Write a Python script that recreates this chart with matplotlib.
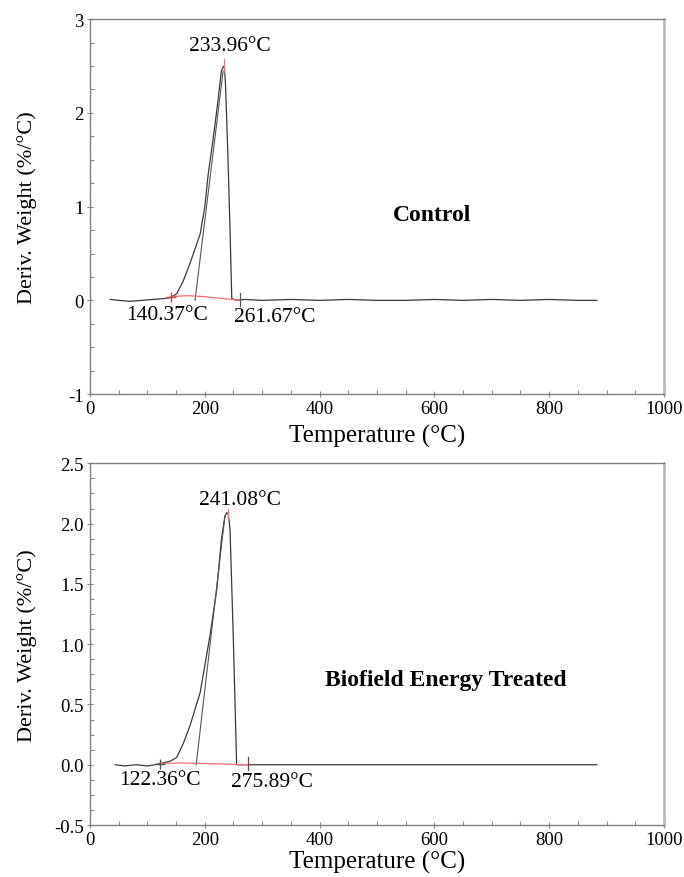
import matplotlib.pyplot as plt
from matplotlib.ticker import MultipleLocator, FormatStrFormatter

plt.rcParams['font.family'] = ['Liberation Serif', 'DejaVu Serif']

# control curve
ctrl_t = [35, 50, 70, 90, 110, 130, 140, 151, 162, 174, 183, 192, 200, 206, 214,
          221, 229, 232, 234, 236, 240, 244, 247, 255, 270, 300, 350, 400, 450,
          500, 550, 600, 650, 700, 750, 800, 850, 883]
ctrl_y = [0.01, 0.0, -0.01, 0.0, 0.01, 0.02, 0.03, 0.07, 0.2, 0.39, 0.55, 0.71,
          1.0, 1.35, 1.7, 2.03, 2.45, 2.49, 2.5, 2.32, 1.6, 0.75, 0.02, 0.0,
          0.01, 0.0, 0.01, 0.0, 0.01, 0.0, 0.0, 0.01, 0.0, 0.01, 0.0, 0.01, 0.0, 0.0]
ctrl_tan_t = [183, 232]
ctrl_tan_y = [0.0, 2.45]
ctrl_base_t = [140, 170, 200, 230, 262]
ctrl_base_y = [0.04, 0.05, 0.04, 0.02, 0.0]

# treated curve
trt_t = [44, 60, 80, 100, 113, 122, 140, 151, 162, 174, 192, 209, 221, 229, 235,
         238, 241, 244, 250, 255.5, 265, 300, 350, 400, 450, 500, 550, 600, 650,
         700, 750, 800, 850, 883]
trt_y = [0.0, -0.01, 0.0, -0.01, 0.0, 0.01, 0.03, 0.06, 0.17, 0.32, 0.6, 1.07,
         1.46, 1.87, 2.06, 2.09, 2.08, 1.95, 1.0, 0.0, 0.0, 0.0, 0.0, 0.0, 0.0,
         0.0, 0.0, 0.0, 0.0, 0.0, 0.0, 0.0, 0.0, 0.0]
trt_tan_t = [185, 235]
trt_tan_y = [0.0, 2.06]
trt_base_t = [122, 160, 200, 240, 276]
trt_base_y = [0.01, 0.015, 0.01, 0.005, 0.0]

fig = plt.figure(figsize=(6.84, 8.78), dpi=100)
ax1 = fig.add_axes([0.1316, 0.550, 0.839, 0.427])
ax2 = fig.add_axes([0.1316, 0.0592, 0.839, 0.412])


def style(ax, ymin, ymax, ymaj, ymin_step, fmt, xlab_y):
    ax.set_xlim(0, 1000)
    ax.set_ylim(ymin, ymax)
    ax.xaxis.set_major_locator(MultipleLocator(200))
    ax.xaxis.set_minor_locator(MultipleLocator(50))
    ax.yaxis.set_major_locator(MultipleLocator(ymaj))
    ax.yaxis.set_minor_locator(MultipleLocator(ymin_step))
    ax.yaxis.set_major_formatter(FormatStrFormatter(fmt))
    ax.tick_params(which='major', direction='inout', length=5, width=0.8,
                   color='#888888', labelsize=13.5, pad=2)
    ax.tick_params(which='minor', direction='in', length=3, width=0.8,
                   color='#888888')
    for s in ['left', 'top', 'bottom']:
        ax.spines[s].set_color('#808080')
        ax.spines[s].set_linewidth(1.0)
    ax.spines['right'].set_color('#bbbbbb')
    ax.spines['right'].set_linewidth(2.0)
    ax.set_xlabel('Temperature (°C)', fontsize=18)
    ax.set_ylabel('Deriv. Weight (%/°C)', fontsize=16)
    ax.yaxis.set_label_coords(-0.092, 0.5)
    ax.xaxis.set_label_coords(0.5, xlab_y)


style(ax1, -1, 3, 1, 0.25, '%d', -0.08)
style(ax2, -0.5, 2.5, 0.5, 0.125, '%.1f', -0.069)

# top panel
ax1.plot(ctrl_t, ctrl_y, color='#3a3a3a', lw=0.9)
ax1.plot(ctrl_tan_t, ctrl_tan_y, color='#555555', lw=0.8)
ax1.plot(ctrl_base_t, ctrl_base_y, color='#f07070', lw=0.9)
ax1.plot([140.37], [0.04], marker='+', color='#b05050', ms=7)
ax1.plot([261.67, 261.67], [-0.06, 0.08], color='#555555', lw=0.9)
ax1.plot([233.96, 233.96], [2.44, 2.58], color='#f07070', lw=0.9)
ax1.text(244, 2.72, '233.96°C', fontsize=15.5, ha='center', va='center')
ax1.text(134, -0.15, '140.37°C', fontsize=15.5, ha='center', va='center')
ax1.text(322, -0.17, '261.67°C', fontsize=15.5, ha='center', va='center')
ax1.text(596, 0.92, 'Control', fontsize=17, fontweight='bold', ha='center', va='center')

# bottom panel
ax2.plot(trt_t, trt_y, color='#3a3a3a', lw=0.9)
ax2.plot(trt_tan_t, trt_tan_y, color='#555555', lw=0.8)
ax2.plot(trt_base_t, trt_base_y, color='#f07070', lw=0.9)
ax2.plot([122.36], [0.01], marker='+', color='#555555', ms=7)
ax2.plot([275.89, 275.89], [-0.04, 0.06], color='#a03030', lw=0.9)
ax2.plot([241.08, 241.08], [2.04, 2.12], color='#f07070', lw=0.9)
ax2.text(261, 2.2, '241.08°C', fontsize=15.5, ha='center', va='center')
ax2.text(122, -0.12, '122.36°C', fontsize=15.5, ha='center', va='center')
ax2.text(317, -0.14, '275.89°C', fontsize=15.5, ha='center', va='center')
ax2.text(620, 0.71, 'Biofield Energy Treated', fontsize=17, fontweight='bold',
         ha='center', va='center')

fig.savefig('out.png', dpi=100)
